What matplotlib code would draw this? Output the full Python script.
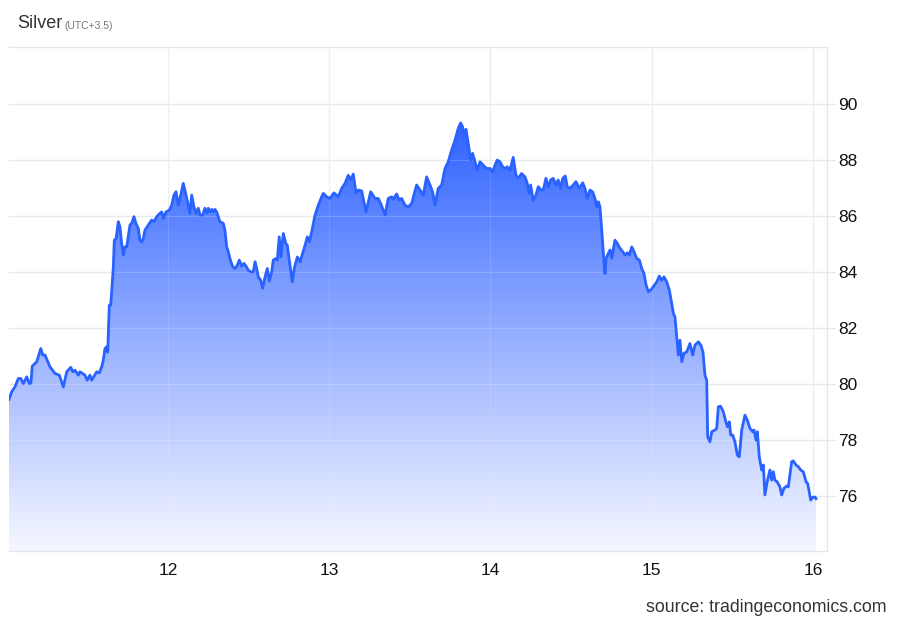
import numpy as np
import matplotlib
matplotlib.use("Agg")
import matplotlib.pyplot as plt
from matplotlib.colors import LinearSegmentedColormap

plt.rcParams['font.family'] = ['Liberation Sans', 'DejaVu Sans']

title = "Silver"
subtitle = "(UTC+3.5)"
source = "source: tradingeconomics.com"

x_ticks = [12, 13, 14, 15, 16]
y_ticks = [76, 78, 80, 82, 84, 86, 88, 90]

days = [
    11.014, 11.031, 11.051, 11.072, 11.087, 11.103, 11.124, 11.140, 11.150, 11.158,
    11.186, 11.211, 11.223, 11.237, 11.268, 11.299, 11.326, 11.351, 11.372, 11.397,
    11.409, 11.423, 11.444, 11.454, 11.485, 11.499, 11.516, 11.527, 11.558, 11.574,
    11.589, 11.599, 11.609, 11.620, 11.626, 11.636, 11.645, 11.661, 11.667, 11.678,
    11.692, 11.702, 11.713, 11.723, 11.733, 11.744, 11.764, 11.775, 11.789, 11.801,
    11.816, 11.826, 11.837, 11.847, 11.857, 11.878, 11.899, 11.913, 11.930, 11.950,
    11.961, 11.971, 11.988, 12.008, 12.023, 12.037, 12.050, 12.064, 12.079, 12.095,
    12.112, 12.126, 12.136, 12.147, 12.161, 12.174, 12.188, 12.198, 12.215, 12.229,
    12.240, 12.250, 12.260, 12.271, 12.281, 12.291, 12.302, 12.312, 12.322, 12.343,
    12.353, 12.364, 12.374, 12.384, 12.401, 12.416, 12.430, 12.442, 12.457, 12.471,
    12.484, 12.498, 12.513, 12.529, 12.540, 12.550, 12.560, 12.575, 12.587, 12.602,
    12.616, 12.628, 12.643, 12.653, 12.672, 12.678, 12.690, 12.701, 12.715, 12.731,
    12.740, 12.752, 12.771, 12.783, 12.802, 12.819, 12.850, 12.864, 12.877, 12.891,
    12.912, 12.932, 12.953, 12.963, 12.984, 13.005, 13.029, 13.056, 13.077, 13.098,
    13.118, 13.133, 13.149, 13.166, 13.180, 13.201, 13.228, 13.257, 13.284, 13.304,
    13.319, 13.346, 13.366, 13.387, 13.397, 13.418, 13.434, 13.449, 13.470, 13.490,
    13.511, 13.542, 13.563, 13.583, 13.604, 13.629, 13.642, 13.656, 13.676, 13.697,
    13.718, 13.738, 13.759, 13.780, 13.800, 13.815, 13.827, 13.837, 13.848, 13.862,
    13.877, 13.889, 13.904, 13.918, 13.935, 13.955, 13.976, 13.997, 14.013, 14.028,
    14.042, 14.059, 14.075, 14.090, 14.104, 14.121, 14.141, 14.158, 14.172, 14.193,
    14.214, 14.228, 14.240, 14.249, 14.265, 14.282, 14.296, 14.311, 14.327, 14.344,
    14.358, 14.373, 14.389, 14.406, 14.420, 14.435, 14.448, 14.464, 14.476, 14.493,
    14.513, 14.530, 14.551, 14.572, 14.586, 14.600, 14.617, 14.634, 14.648, 14.659,
    14.669, 14.679, 14.690, 14.700, 14.710, 14.717, 14.731, 14.742, 14.752, 14.772,
    14.787, 14.803, 14.820, 14.834, 14.849, 14.861, 14.876, 14.890, 14.907, 14.923,
    14.938, 14.952, 14.965, 14.979, 14.994, 15.010, 15.031, 15.047, 15.062, 15.076,
    15.093, 15.109, 15.124, 15.134, 15.144, 15.155, 15.165, 15.175, 15.186, 15.200,
    15.217, 15.237, 15.254, 15.268, 15.289, 15.305, 15.318, 15.330, 15.341, 15.347,
    15.361, 15.372, 15.392, 15.403, 15.413, 15.427, 15.444, 15.460, 15.469, 15.481,
    15.490, 15.502, 15.516, 15.531, 15.543, 15.558, 15.578, 15.593, 15.609, 15.626,
    15.634, 15.647, 15.655, 15.667, 15.682, 15.692, 15.702, 15.716, 15.733, 15.744,
    15.754, 15.764, 15.778, 15.795, 15.806, 15.820, 15.837, 15.847, 15.868, 15.878,
    15.895, 15.909, 15.924, 15.940, 15.957, 15.967, 15.986, 15.998, 16.012, 16.019,
]

prices = [
    79.45, 79.73, 79.90, 80.20, 80.20, 80.02, 80.26, 80.02, 80.04, 80.64,
    80.80, 81.27, 81.04, 81.04, 80.62, 80.38, 80.32, 79.90, 80.44, 80.60,
    80.44, 80.50, 80.32, 80.44, 80.32, 80.14, 80.32, 80.14, 80.44, 80.40,
    80.62, 80.86, 81.27, 81.33, 81.14, 82.82, 82.82, 84.19, 85.14, 85.20,
    85.80, 85.62, 85.02, 84.61, 84.90, 84.90, 85.68, 85.74, 85.98, 85.74,
    85.56, 85.14, 85.08, 85.20, 85.50, 85.68, 85.86, 85.80, 85.98, 86.10,
    86.15, 85.92, 86.15, 86.21, 86.39, 86.75, 86.87, 86.39, 86.75, 87.17,
    86.75, 86.39, 86.10, 86.75, 86.33, 86.10, 86.28, 86.04, 86.04, 86.28,
    86.10, 86.28, 86.15, 86.24, 86.15, 86.24, 86.15, 85.98, 85.80, 85.74,
    85.50, 84.90, 84.73, 84.49, 84.19, 84.13, 84.25, 84.43, 84.21, 84.31,
    84.21, 84.07, 84.01, 84.01, 84.37, 84.13, 83.83, 83.71, 83.42, 83.83,
    84.13, 83.68, 84.01, 84.43, 84.49, 84.43, 85.26, 84.54, 85.38, 85.02,
    84.96, 84.43, 83.65, 84.13, 84.54, 84.37, 84.96, 85.26, 85.08, 85.44,
    86.04, 86.39, 86.69, 86.81, 86.69, 86.63, 86.83, 86.69, 86.99, 87.17,
    87.46, 87.29, 87.50, 86.83, 86.93, 86.90, 86.15, 86.87, 86.63, 86.63,
    86.45, 86.04, 86.63, 86.69, 86.60, 86.79, 86.57, 86.63, 86.39, 86.33,
    86.45, 87.11, 86.93, 86.75, 87.40, 87.05, 86.84, 86.39, 86.99, 87.11,
    87.70, 87.94, 88.36, 88.71, 89.13, 89.33, 89.19, 88.89, 89.10, 88.60,
    88.00, 88.24, 87.94, 87.64, 87.94, 87.82, 87.70, 87.70, 87.58, 87.82,
    88.00, 87.94, 87.76, 87.70, 87.76, 87.64, 88.10, 87.46, 87.35, 87.52,
    87.40, 87.17, 86.81, 87.11, 86.57, 86.75, 87.05, 86.95, 86.93, 87.35,
    87.05, 87.29, 87.35, 87.11, 87.29, 86.99, 87.35, 87.43, 87.05, 86.99,
    87.11, 87.23, 86.99, 87.19, 86.99, 86.63, 86.93, 86.86, 86.63, 86.33,
    86.51, 86.33, 85.50, 84.67, 83.95, 84.49, 84.67, 84.79, 84.49, 85.14,
    85.02, 84.85, 84.73, 84.61, 84.69, 84.61, 84.90, 84.73, 84.49, 84.43,
    84.13, 83.95, 83.54, 83.30, 83.36, 83.48, 83.65, 83.86, 83.71, 83.83,
    83.65, 83.36, 82.88, 82.53, 82.40, 81.69, 81.04, 81.57, 80.80, 81.10,
    81.15, 81.45, 81.04, 81.39, 81.51, 81.39, 81.14, 80.32, 80.14, 78.12,
    77.94, 78.30, 78.36, 78.42, 79.19, 79.21, 79.01, 78.65, 78.48, 78.65,
    78.18, 78.18, 77.94, 77.46, 77.40, 78.36, 78.89, 78.71, 78.42, 78.30,
    78.36, 78.00, 78.30, 77.40, 76.93, 77.11, 76.04, 76.51, 76.93, 76.57,
    76.87, 76.57, 76.51, 76.33, 76.04, 76.28, 76.36, 76.33, 77.23, 77.26,
    77.11, 77.05, 76.93, 76.87, 76.51, 76.45, 75.86, 75.95, 75.97, 75.91,
]

x_min, x_max = 11.014, 16.087
y_min, y_max = 74.04, 92.04

line_color = "#2962ff"

fig = plt.figure(figsize=(9, 6.24), dpi=100)
ax = fig.add_axes([0.01, 0.117, 0.9089, 0.8077])
ax.set_xlim(x_min, x_max)
ax.set_ylim(y_min, y_max)

# gradient fill
xs = np.array(days)
ys = np.array(prices)
poly_x = np.concatenate([[xs[0]], xs, [xs[-1]]])
poly_y = np.concatenate([[y_min], ys, [y_min]])
fill = ax.fill(poly_x, poly_y, facecolor="none", edgecolor="none")[0]

top_val = ys.max()
grad = np.linspace(0, 1, 256).reshape(-1, 1)
cmap = LinearSegmentedColormap.from_list(
    "g", [(0.0, "#f5f7ff"), (0.45, "#9fb6ff"), (1.0, "#2f63ff")])
im = ax.imshow(grad, extent=[x_min, x_max, y_min, top_val], origin="lower",
               aspect="auto", cmap=cmap, zorder=1)
im.set_clip_path(fill)

ax.plot(xs, ys, color=line_color, lw=2.0, zorder=3, solid_joinstyle="round")

# grid
for yt in y_ticks:
    ax.axhline(yt, color="#e3e6ea", lw=1.0, zorder=0.5)
for xt in x_ticks:
    ax.axvline(xt, color="#e9eef3", lw=1.0, zorder=0.5)
# faint grid over the fill, as in the reference
for yt in y_ticks:
    ax.axhline(yt, color="#ffffff", lw=0.8, alpha=0.18, zorder=2)
for xt in x_ticks:
    ax.axvline(xt, color="#ffffff", lw=0.8, alpha=0.12, zorder=2)

ax.yaxis.tick_right()
ax.set_yticks(y_ticks)
ax.set_yticklabels([str(v) for v in y_ticks])
ax.set_xticks(x_ticks)
ax.set_xticklabels([str(v) for v in x_ticks])
ax.tick_params(axis="y", length=6, color="#e3e6ea", labelsize=12.5,
               labelcolor="#111111", pad=2)
ax.tick_params(axis="x", length=0, labelsize=12.5, labelcolor="#111111", pad=9)

ax.spines["left"].set_visible(False)
for s in ["top", "bottom", "right"]:
    ax.spines[s].set_color("#e3e6ea")
    ax.spines[s].set_linewidth(1.0)

fig.text(17 / 900, 1 - 24 / 624, title, fontsize=13, color="#333333",
         va="center", ha="left")
fig.text(64 / 900, 1 - 26 / 624, subtitle, fontsize=7.5, color="#777777",
         va="center", ha="left")
fig.text(887 / 900, 1 - 608 / 624, source, fontsize=12.8, color="#333333",
         va="center", ha="right")

fig.savefig("out.png", dpi=100)
